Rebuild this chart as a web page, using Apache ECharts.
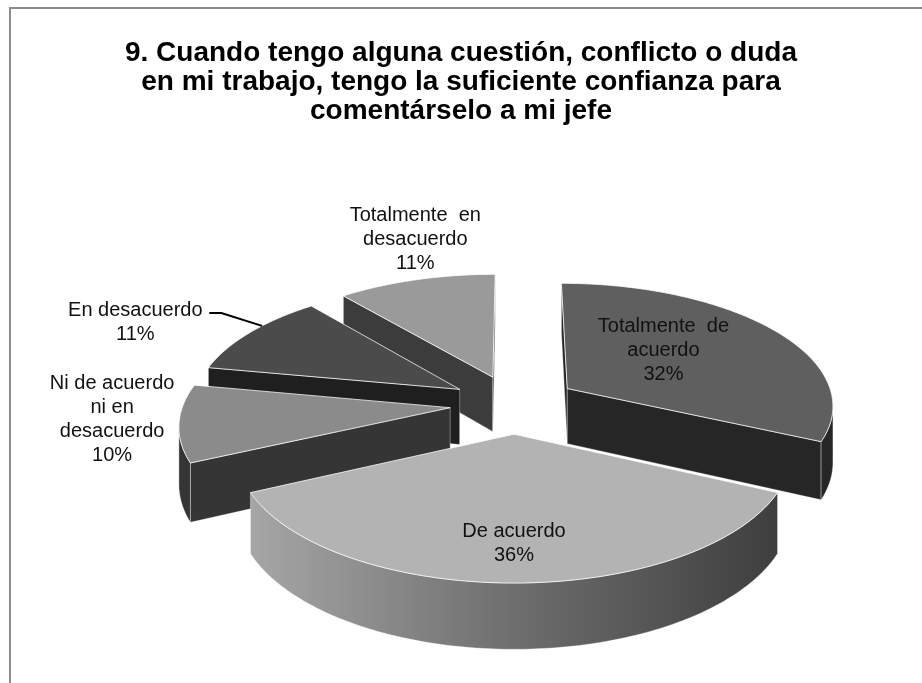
<!DOCTYPE html>
<html>
<head>
<meta charset="utf-8">
<script src="https://cdn.jsdelivr.net/npm/echarts@6/dist/echarts.min.js"></script>
<style>
html,body{margin:0;padding:0;background:#fff;}
#chart{width:922px;height:683px;}
</style>
</head>
<body>
<div id="chart"></div>
<script>
// ---- data ----
const titleText = '9. Cuando tengo alguna cuestión, conflicto o duda\nen mi trabajo, tengo la suficiente confianza para\ncomentárselo a mi jefe';
const categories = ['Totalmente  de\nacuerdo', 'De acuerdo', 'Ni de acuerdo\nni en\ndesacuerdo', 'En desacuerdo', 'Totalmente  en\ndesacuerdo'];
const values = [32, 36, 10, 11, 11];

// ---- styles ----
const topColors = ['#5f5f5f', '#b3b3b3', '#8b8b8b', '#4b4b4b', '#9a9a9a'];
const sideColors = ['#262626', 'gradient', '#353535', '#1f1f1f', '#3c3c3c'];
// label placement in pie space: [angle deg clockwise from 12 o'clock, radius relative to pie radius]
const labelPlace = [[52.1, 0.75], [180, 1.0], [265.2, 1.487], [295.1, 1.708], [344.7, 1.686]];
const leader = [null, null, null, {angle: 305, halfWidth: 74}, null];

const VIEW = {cx: 514, cy: 404, S: 267, a: 122, p: 0.125, H: 56, explode: 0.24};

const total = values.reduce((s, v) => s + v, 0);
const starts = [], ends = [], mids = [];
let acc = 0;
values.forEach(v => { starts.push(acc / total * 360); acc += v; ends.push(acc / total * 360); mids.push((starts[starts.length-1] + ends[ends.length-1]) / 2); });
const rad = d => d * Math.PI / 180;

function proj(X, Z, down) {
  const w = 1 - VIEW.p * Z;
  return [VIEW.cx + VIEW.S * X / w, VIEW.cy + VIEW.a * Z / w + (down ? VIEW.H / w : 0)];
}
function slicePt(i, th, r, down) {
  const m = rad(mids[i]), t = rad(th);
  const X = VIEW.explode * Math.sin(m) + r * Math.sin(t);
  const Z = -(VIEW.explode * Math.cos(m) + r * Math.cos(t));
  return proj(X, Z, down);
}
function area(pts) {
  let s = 0;
  for (let k = 0; k < pts.length; k++) { const a = pts[k], b = pts[(k + 1) % pts.length]; s += a[0] * b[1] - b[0] * a[1]; }
  return s / 2;
}
const order = values.map((v, i) => i).sort((a, b) => (-Math.cos(rad(mids[a]))) - (-Math.cos(rad(mids[b]))));
const rank = []; order.forEach((idx, k) => rank[idx] = k);

function renderItem(params, api) {
  const i = params.dataIndex;
  const v = api.value(0);
  const th0 = starts[i], th1 = ends[i];
  const base = rank[i] * 10;
  const children = [];
  const sideFill = sideColors[i] === 'gradient'
    ? new echarts.graphic.LinearGradient(0, 0, 1, 0, [{offset: 0, color: '#a6a6a6'}, {offset: 0.5, color: '#6e6e6e'}, {offset: 1, color: '#3e3e3e'}])
    : sideColors[i];
  const sideStyle = {fill: sideFill, stroke: 'rgba(255,255,255,0.35)', lineWidth: 1, lineJoin: 'round'};
  // radial faces
  [[th0, -1], [th1, 1]].forEach(([th, sgn]) => {
    const face = [slicePt(i, th, 0, false), slicePt(i, th, 1, false), slicePt(i, th, 1, true), slicePt(i, th, 0, true)];
    if (area(face) * sgn > 0) {
      children.push({type: 'polygon', shape: {points: face}, style: sideStyle, z2: base + 1});
    }
  });
  // outer arc
  const steps = Math.max(2, Math.ceil(th1 - th0));
  const angs = [];
  for (let k = 0; k <= steps; k++) angs.push(th0 + (th1 - th0) * k / steps);
  let first = -1, last = -1;
  for (let k = 0; k < steps; k++) {
    const q = [slicePt(i, angs[k], 1, false), slicePt(i, angs[k + 1], 1, false), slicePt(i, angs[k + 1], 1, true), slicePt(i, angs[k], 1, true)];
    if (area(q) < 0) { if (first < 0) first = k; last = k; }
  }
  if (first >= 0) {
    const tp = [], bt = [];
    for (let k = first; k <= last + 1; k++) { tp.push(slicePt(i, angs[k], 1, false)); bt.push(slicePt(i, angs[k], 1, true)); }
    children.push({type: 'polygon', shape: {points: tp.concat(bt.reverse())}, style: sideStyle, z2: base + 2});
  }
  // top face
  const top = [slicePt(i, th0, 0, false)];
  angs.forEach(a => top.push(slicePt(i, a, 1, false)));
  children.push({type: 'polygon', shape: {points: top}, style: {fill: topColors[i], stroke: 'rgba(255,255,255,0.75)', lineWidth: 1, lineJoin: 'round'}, z2: base + 3});
  // label
  const lp = labelPlace[i];
  const lpos = proj(lp[1] * Math.sin(rad(lp[0])), -lp[1] * Math.cos(rad(lp[0])), false);
  const pct = Math.round(v / total * 100) + '%';
  children.push({type: 'text', z2: 200, style: {
    text: categories[i] + '\n' + pct, x: lpos[0], y: lpos[1], align: 'center', verticalAlign: 'middle',
    fontFamily: '"Liberation Sans", Arial, sans-serif', fontSize: 20, lineHeight: 24, fill: '#111'
  }});
  if (leader[i]) {
    const nLines = (categories[i] + '\n' + pct).split('\n').length;
    const ly = lpos[1] - (nLines - 1) * 12 + 2;
    const x0 = lpos[0] + leader[i].halfWidth;
    const end = slicePt(i, leader[i].angle, 1, false);
    children.push({type: 'polyline', z2: 150, shape: {points: [[x0, ly], [x0 + 12, ly], end]}, style: {stroke: '#000', lineWidth: 2, fill: null}});
  }
  return {type: 'group', children};
}

const chart = echarts.init(document.getElementById('chart'), null, {renderer: 'canvas'});
chart.setOption({
  backgroundColor: '#ffffff',
  animation: false,
  title: {
    text: titleText, left: 'center', top: 34,
    textStyle: {fontFamily: '"Liberation Sans", Arial, sans-serif', fontSize: 28, fontWeight: 'bold', lineHeight: 29, color: '#000'}
  },
  graphic: [{type: 'rect', z: -10, silent: true, shape: {x: 10, y: 8, width: 1200, height: 1200}, style: {fill: null, stroke: '#8c8c8c', lineWidth: 2}}],
  series: [{
    type: 'custom', coordinateSystem: 'none', renderItem: renderItem,
    data: values.map(v => [v])
  }]
});
</script>
</body>
</html>
